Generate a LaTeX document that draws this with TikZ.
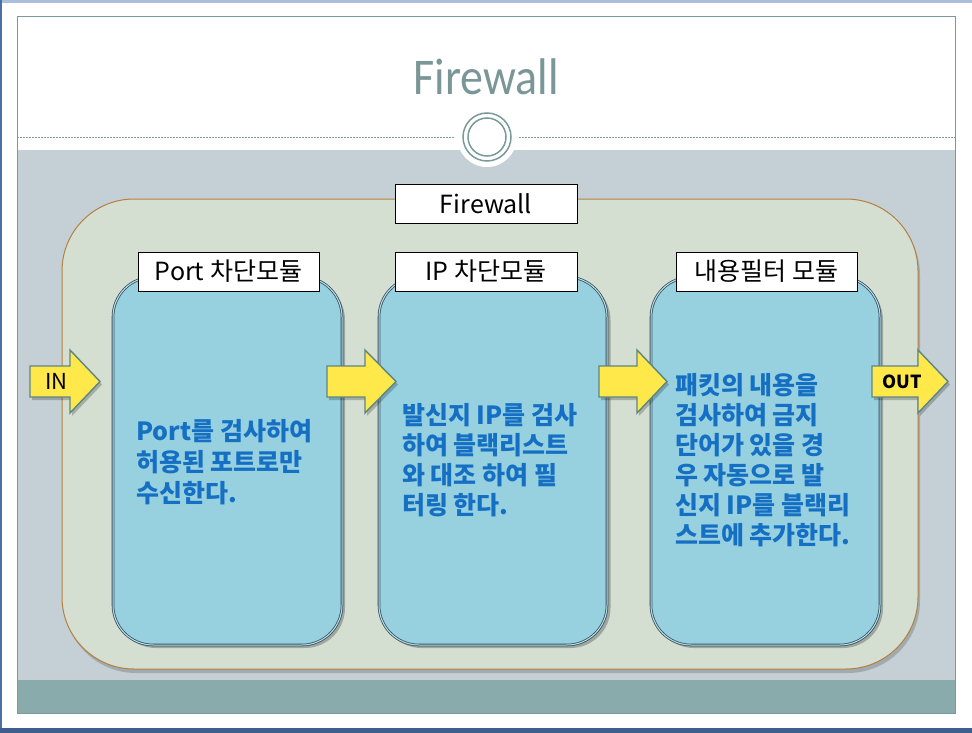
\documentclass[tikz,border=0pt]{standalone}
\usepackage{fontspec}
\setmainfont{Carlito}
\newfontfamily\kr{Noto Sans CJK KR}
\definecolor{slideborder}{HTML}{7A9A9A}
\definecolor{bandgray}{HTML}{C5D0D6}
\definecolor{bandteal}{HTML}{8AABAB}
\definecolor{contfill}{HTML}{D4DFD2}
\definecolor{contborder}{HTML}{B5803F}
\definecolor{modfill}{HTML}{97D1DF}
\definecolor{modborder}{HTML}{3A5060}
\definecolor{arrfill}{HTML}{FFE84A}
\definecolor{arrborder}{HTML}{5E8585}
\definecolor{txtblue}{HTML}{1570C4}
\definecolor{titlecol}{HTML}{7A9696}
\definecolor{winblue}{HTML}{4A6FA0}
\definecolor{windark}{HTML}{3E5F8E}
\definecolor{winlight}{HTML}{A8C0DC}
\newcommand\blockarrow[3]{%
  \fill[black,opacity=0.22] ($(#1,366)+(2,3)$) -- ($(#2,366)+(2,3)$) -- ($(#2,350)+(2,3)$) -- ($(#3,381.5)+(2,3)$) -- ($(#2,413)+(2,3)$) -- ($(#2,397)+(2,3)$) -- ($(#1,397)+(2,3)$) -- cycle;
  \draw[arrowshape] (#1,366) -- (#2,366) -- (#2,350) -- (#3,381.5) -- (#2,413) -- (#2,397) -- (#1,397) -- cycle;}
\usetikzlibrary{calc}
\tikzset{
  arrowshape/.style={fill=arrfill, draw=arrborder, line width=1.4pt, line join=miter},
  modbox/.style={rectangle, rounded corners=40pt, fill=modfill, draw=modborder, line width=0.8pt,
    double=modfill!70!white, double distance=1pt, minimum width=229pt, minimum height=368pt, inner sep=0pt},
  modshadow/.style={rectangle, rounded corners=40pt, fill=black, opacity=0.25, minimum width=229pt, minimum height=368pt, inner sep=0pt},
  lbl/.style={rectangle, draw=black, fill=white, line width=0.8pt, inner sep=0pt,
    minimum width=181pt, minimum height=39pt, font=\kr\fontsize{25}{29}\selectfont},
  bodytext/.style={anchor=north west, inner sep=0pt, align=left, text=txtblue,
    font=\kr\bfseries\fontsize{25}{30}\selectfont},
}
\begin{document}
\begin{tikzpicture}[x=1pt,y=-1pt]
\useasboundingbox (0,0) rectangle (972,733);
\fill[white] (0,0) rectangle (972,733);
% window frame
\fill[winlight] (0,0) rectangle (972,3);
\fill[winblue] (0,0) rectangle (2,733);
\fill[windark] (0,728) rectangle (972,733);
% slide
\fill[bandgray] (17,150) rectangle (955,680);
\fill[bandteal] (17,680) rectangle (955,713);
\draw[slideborder, line width=1pt] (17,17) rectangle (955,713);
\draw[slideborder, line width=0.8pt, dash pattern=on 2pt off 1pt] (17,137) -- (455,137);
\draw[slideborder, line width=0.8pt, dash pattern=on 2pt off 1pt] (519,137) -- (955,137);
\fill[white] (487,137) circle[radius=30pt];
\draw[slideborder, line width=1.5pt] (487,137) circle[radius=24pt];
\draw[slideborder, line width=1.5pt] (487,137) circle[radius=19pt];
\node[text=titlecol, font=\fontsize{46}{50}\selectfont, inner sep=0pt] (title) at (486,77) {\scalebox{1}[1.12]{Firewall}};
% container
\fill[black, opacity=0.18, rounded corners=72pt] (64,203) rectangle (920,673);
\draw[contborder, fill=contfill, line width=1pt, rounded corners=72pt] (62,199) rectangle (918,669);
\node[lbl, minimum width=182pt] (fw) at (486,203.5) {Firewall};
% modules
\node[modshadow] at (230.5,464) {};
\node[modshadow] at (496,464) {};
\node[modshadow] at (768.5,464) {};
\node[modbox] (m1) at (227.5,461) {};
\node[modbox, minimum width=228pt] (m2) at (493,461) {};
\node[modbox] (m3) at (765.5,461) {};
\node[lbl] (l1) at (228.5,271.5) {Port 차단모듈};
\node[lbl, minimum width=182pt] (l2) at (486,271.5) {IP 차단모듈};
\node[lbl] (l3) at (766.5,271.5) {내용필터 모듈};
% arrows
\blockarrow{30}{70}{100}
\blockarrow{327}{365}{396}
\blockarrow{599}{637}{667}
\blockarrow{872}{918}{948}
\node[font=\kr\fontsize{22}{24}\selectfont, inner sep=0pt] (in) at (56.5,381.5) {IN};
\node[font=\kr\bfseries\fontsize{18}{20}\selectfont, inner sep=0pt] (out) at (902,381.5) {OUT};
% texts
\node[bodytext, font=\kr\bfseries\fontsize{25}{31}\selectfont] (t1) at (136,419) {Port를 검사하여\\허용된 포트로만\\수신한다.};
\node[bodytext] (t2) at (402,403) {발신지 IP를 검사\\하여 블랙리스트\\와 대조 하여 필\\터링 한다.};
\node[bodytext] (t3) at (675,373) {패킷의 내용을\\검사하여 금지\\단어가 있을 경\\우 자동으로 발\\신지 IP를 블랙리\\스트에 추가한다.};
\end{tikzpicture}
\end{document}
